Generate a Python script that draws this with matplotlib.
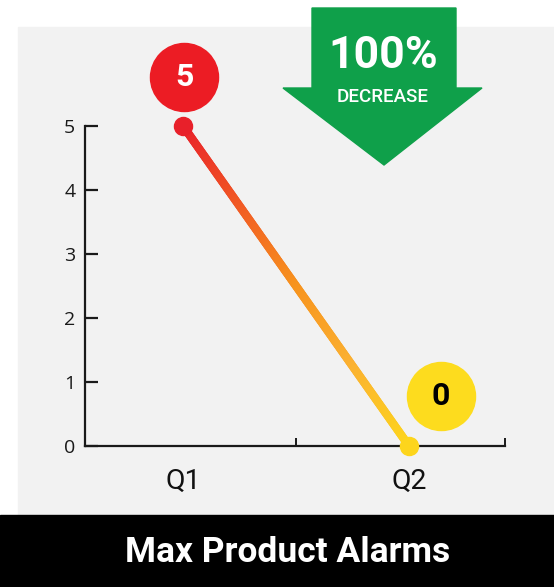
import numpy as np
import matplotlib.pyplot as plt
from matplotlib.collections import LineCollection
from matplotlib.colors import LinearSegmentedColormap
from matplotlib.patches import Rectangle, Polygon
from matplotlib.transforms import offset_copy

# data
quarters = ["Q1", "Q2"]
alarms = [5, 0]
change_pct = "100%"
change_word = "DECREASE"
title = "Max Product Alarms"

W, H = 554, 587
fig = plt.figure(figsize=(W / 100, H / 100), dpi=100)
fig.patch.set_facecolor("white")


def px(x, y):
    """top-left pixel coords -> figure fraction"""
    return (x / W, 1 - y / H)


# grey panel + black banner
fig.patches.append(Rectangle(px(18, 515), (W - 18) / W, (515 - 27) / H,
                             transform=fig.transFigure, color="#f2f2f2", zorder=-2))
fig.patches.append(Rectangle(px(0, 587), 1, 72 / H,
                             transform=fig.transFigure, color="black", zorder=-2))
fig.text(288 / W, px(0, 552)[1], title, color="white", fontsize=25.5,
         fontweight="bold", family="Roboto", ha="center", va="center")

# green arrow
arrow_pts = [(312, 8), (456, 8), (456, 88), (482, 88), (384, 165),
             (283, 88), (312, 88)]
fig.patches.append(Polygon([px(*p) for p in arrow_pts], closed=True,
                           transform=fig.transFigure, color="#0fa04a", zorder=1))
fig.text(383 / W, px(0, 56)[1], change_pct, color="white", fontsize=32,
         fontweight="bold", family="Roboto", ha="center", va="center", zorder=2)
fig.text(383 / W, px(0, 97)[1], change_word, color="white", fontsize=13.5,
         fontweight="medium", family="Roboto", ha="center", va="center", zorder=2)

# axes
ax = fig.add_axes([85 / W, 141 / H, 420 / W, 320 / H])
ax.set_zorder(0)
ax.set_facecolor("none")
x = np.arange(len(quarters))
ax.set_xlim(-0.434, len(quarters) - 1 + 0.425)
ax.set_ylim(0, 5)

for s in ["top", "right"]:
    ax.spines[s].set_visible(False)
for s in ["left", "bottom"]:
    ax.spines[s].set_linewidth(1.6)
    ax.spines[s].set_color("#1a1a1a")

ax.set_yticks(range(0, 6))
ax.tick_params(axis="y", direction="in", length=9, width=1.6, color="#1a1a1a",
               pad=7, labelsize=14, labelcolor="#1a1a1a")
for lab in ax.get_yticklabels():
    lab.set_family("Open Sans")

xmax = ax.get_xlim()[1]
ax.set_xticks([0.5, xmax])
ax.set_xticklabels([])
ax.tick_params(axis="x", direction="in", length=6, width=1.4, color="#1a1a1a")
for xi, q in zip(x, quarters):
    ax.text(xi, -0.55, q, ha="center", va="center", fontsize=20.5,
            family="Roboto", color="#111111")

# gradient line
cmap = LinearSegmentedColormap.from_list(
    "grad", ["#e8202a", "#f15a24", "#f7931e", "#fbb131", "#fdd51c"])
t = np.linspace(0, 1, 200)
xs = x[0] + (x[1] - x[0]) * t
ys = alarms[0] + (alarms[1] - alarms[0]) * t
pts = np.column_stack([xs, ys]).reshape(-1, 1, 2)
segs = np.concatenate([pts[:-1], pts[1:]], axis=1)
lc = LineCollection(segs, colors=cmap(t[:-1]), linewidths=6,
                    capstyle="round", clip_on=False, zorder=3)
ax.add_collection(lc)

dot_colors = ["#e8202a", "#fdd51c"]
for xi, yi, c in zip(x, alarms, dot_colors):
    ax.plot(xi, yi, "o", ms=13, color=c, clip_on=False, zorder=4)

# value bubbles
bubble_off = [(1, 49), (32, 50)]
bubble_txt = ["white", "black"]
bubble_col = ["#ec1c24", "#fddc1e"]
for xi, yi, (dx, dy), fc, tc in zip(x, alarms, bubble_off, bubble_col, bubble_txt):
    tr = offset_copy(ax.transData, fig=fig, x=dx, y=dy, units="dots")
    ax.plot(xi, yi, "o", ms=49, color=fc, transform=tr, clip_on=False, zorder=5)
    ax.text(xi, yi, str(yi), transform=tr, ha="center", va="center",
            fontsize=23, fontweight="bold", family="Roboto", color=tc, zorder=6)

plt.savefig("out.png", dpi=100)
